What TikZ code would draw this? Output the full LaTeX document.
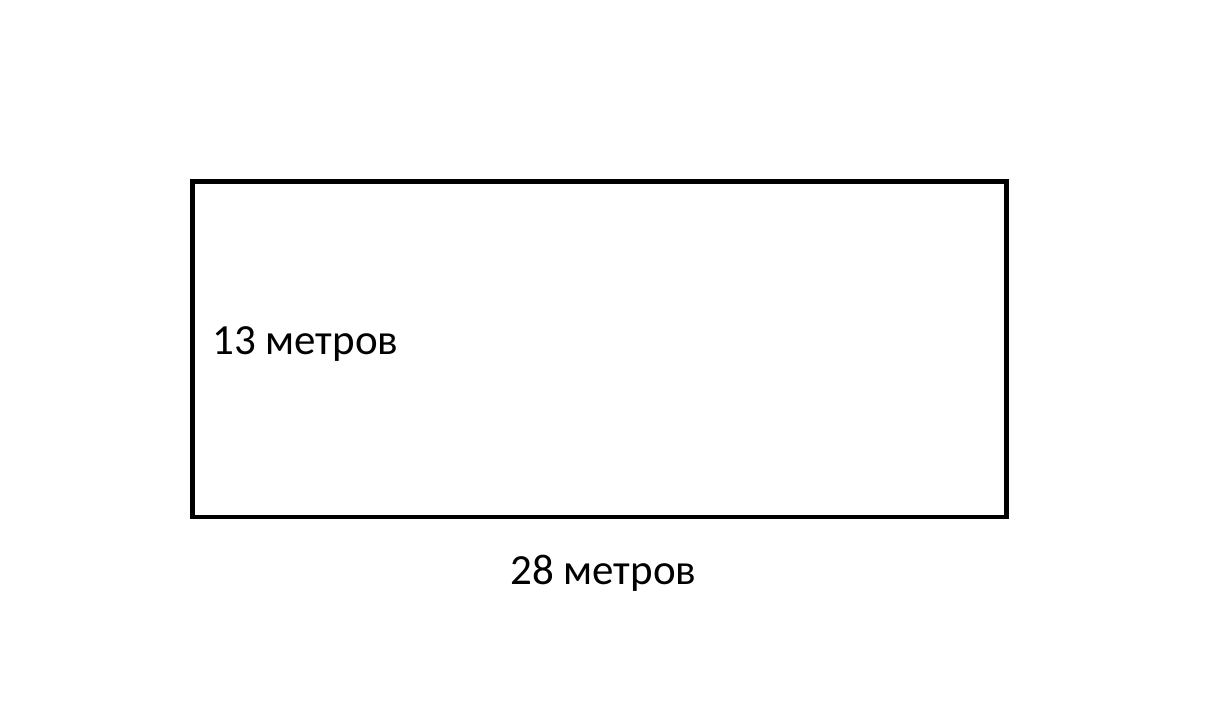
\documentclass[tikz,border=0pt]{standalone}
\usepackage{fontspec}
\setmainfont{Carlito}
\begin{document}
\begin{tikzpicture}[x=1pt,y=-1pt,
  lbl/.style={inner sep=0pt,anchor=base west,font=\fontsize{43}{48}\selectfont}]
\useasboundingbox (0,0) rectangle (1221,717);
\draw[line width=4.5pt] (192.5,181.5) rectangle (1006.5,517);
\node[lbl] (h) at (212,354) {13 метров};
\node[lbl] (w) at (510,584) {28 метров};
\end{tikzpicture}
\end{document}
